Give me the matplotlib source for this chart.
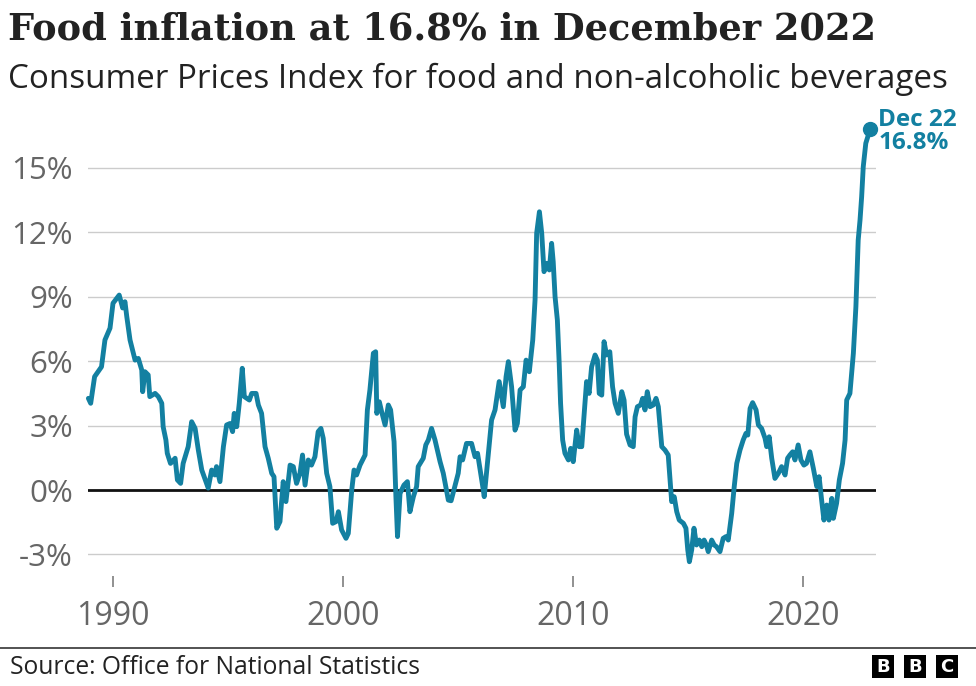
#Grafico: inflacion de alimentos en el Reino Unido (IPC alimentos y bebidas no alcoholicas)
#-------------------------------------------------------------------------------------------
import matplotlib
matplotlib.use('Agg')
import matplotlib.pyplot as plt
from matplotlib.patches import Rectangle

# fechas (anio decimal) y valores, en %
fechas = [1988.93, 1989.03, 1989.2, 1989.5, 1989.65, 1989.87, 1990.0, 1990.27, 1990.42, 1990.52,
          1990.6, 1990.74, 1990.96, 1991.1, 1991.25, 1991.29, 1991.39, 1991.53, 1991.6, 1991.83,
          1991.97, 1992.12, 1992.18, 1992.3, 1992.36, 1992.5, 1992.7, 1992.8, 1992.94, 1993.05,
          1993.27, 1993.42, 1993.57, 1993.71, 1993.86, 1994.07, 1994.14, 1994.29, 1994.43, 1994.5,
          1994.65, 1994.8, 1994.94, 1995.09, 1995.2, 1995.27, 1995.38, 1995.49, 1995.62, 1995.71,
          1995.93, 1996.03, 1996.22, 1996.32, 1996.46, 1996.61, 1996.75, 1996.9, 1997.0, 1997.12,
          1997.26, 1997.4, 1997.52, 1997.7, 1997.84, 1997.98, 1998.13, 1998.24, 1998.35, 1998.49,
          1998.63, 1998.78, 1998.92, 1999.04, 1999.14, 1999.29, 1999.43, 1999.55, 1999.7, 1999.8,
          1999.94, 2000.13, 2000.23, 2000.38, 2000.48, 2000.59, 2000.74, 2000.96, 2001.06, 2001.17,
          2001.32, 2001.42, 2001.47, 2001.58, 2001.68, 2001.83, 2001.97, 2002.07, 2002.22, 2002.3,
          2002.37, 2002.48, 2002.65, 2002.8, 2002.91, 2003.06, 2003.2, 2003.27, 2003.49, 2003.6,
          2003.71, 2003.85, 2004.0, 2004.22, 2004.36, 2004.58, 2004.7, 2004.87, 2005.01, 2005.09,
          2005.2, 2005.37, 2005.59, 2005.74, 2005.85, 2006.1, 2006.14, 2006.32, 2006.46, 2006.61,
          2006.79, 2006.97, 2007.09, 2007.19, 2007.33, 2007.48, 2007.58, 2007.7, 2007.84, 2007.96,
          2008.1, 2008.25, 2008.35, 2008.42, 2008.54, 2008.64, 2008.74, 2008.86, 2008.97, 2009.07,
          2009.14, 2009.22, 2009.32, 2009.4, 2009.46, 2009.55, 2009.65, 2009.8, 2009.9, 2010.01,
          2010.16, 2010.27, 2010.38, 2010.52, 2010.59, 2010.7, 2010.81, 2010.96, 2011.06, 2011.14,
          2011.25, 2011.35, 2011.46, 2011.6, 2011.72, 2011.83, 2011.97, 2012.12, 2012.22, 2012.33,
          2012.48, 2012.62, 2012.7, 2012.8, 2012.94, 2013.03, 2013.13, 2013.23, 2013.35, 2013.49,
          2013.61, 2013.71, 2013.86, 2014.0, 2014.14, 2014.22, 2014.29, 2014.4, 2014.51, 2014.62,
          2014.8, 2014.91, 2014.99, 2015.06, 2015.16, 2015.26, 2015.37, 2015.49, 2015.6, 2015.7,
          2015.8, 2015.88, 2016.03, 2016.14, 2016.24, 2016.39, 2016.53, 2016.65, 2016.75, 2016.9,
          2017.01, 2017.12, 2017.26, 2017.4, 2017.52, 2017.6, 2017.7, 2017.81, 2017.96, 2018.06,
          2018.2, 2018.35, 2018.42, 2018.53, 2018.64, 2018.78, 2018.93, 2019.07, 2019.22, 2019.33,
          2019.43, 2019.55, 2019.65, 2019.79, 2019.91, 2020.04, 2020.15, 2020.3, 2020.45, 2020.6,
          2020.7, 2020.81, 2020.91, 2021.03, 2021.13, 2021.25, 2021.32, 2021.46, 2021.58, 2021.72,
          2021.83, 2021.9, 2022.04, 2022.19, 2022.3, 2022.4, 2022.48, 2022.55, 2022.62, 2022.73,
          2022.917]
inflacion = [4.27, 4.04, 5.28, 5.74, 6.99, 7.54, 8.7, 9.08, 8.48, 8.77,
             8.07, 6.99, 6.05, 6.13, 5.59, 4.58, 5.51, 5.36, 4.35, 4.5,
             4.35, 4.04, 2.95, 2.33, 1.71, 1.24, 1.48, 0.47, 0.31, 1.24,
             2.02, 3.18, 2.87, 1.86, 0.93, 0.31, 0.09, 0.93, 0.7, 1.09,
             0.39, 2.02, 3.03, 3.1, 2.72, 3.57, 2.95, 4.04, 5.67, 4.35,
             4.19, 4.5, 4.5, 3.96, 3.57, 2.02, 1.48, 0.78, 0.62, -1.78,
             -1.47, 0.39, -0.54, 1.16, 1.09, 0.31, 0.78, 1.63, 0.23, 1.4,
             1.16, 1.55, 2.72, 2.87, 2.41, 0.78, 0.16, -1.55, -1.47, -1.01,
             -1.86, -2.25, -2.02, 0.0, 0.93, 0.7, 1.16, 1.63, 3.73, 4.66,
             6.37, 6.44, 3.57, 4.11, 3.65, 3.03, 3.96, 3.73, 2.25, -0.31,
             -2.17, -0.16, 0.23, 0.39, -1.01, -0.31, 0.16, 1.09, 1.48, 2.1,
             2.33, 2.87, 2.33, 1.32, 0.78, -0.47, -0.5, 0.2, 0.78, 1.55,
             1.4, 2.17, 2.17, 1.55, 1.71, 0.0, -0.31, 1.71, 3.26, 3.73,
             5.05, 3.88, 5.28, 5.98, 4.81, 2.79, 3.1, 4.66, 4.81, 6.05,
             5.51, 6.99, 8.85, 11.96, 12.96, 11.96, 10.17, 10.56, 10.25, 11.49,
             10.63, 9.0, 7.92, 5.9, 4.04, 2.33, 1.71, 1.4, 1.94, 1.32,
             2.79, 2.02, 2.02, 4.04, 5.05, 4.5, 5.74, 6.29, 6.05, 4.5,
             4.42, 6.91, 6.29, 6.44, 4.81, 4.04, 3.57, 4.58, 4.19, 2.6,
             2.1, 2.02, 3.41, 3.88, 3.96, 4.27, 3.73, 4.58, 3.88, 3.96,
             4.27, 3.88, 2.02, 1.86, 1.63, 0.47, -0.54, -0.31, -1.01, -1.4,
             -1.55, -1.78, -2.79, -3.34, -2.79, -1.78, -2.56, -2.33, -2.64, -2.33,
             -2.56, -2.87, -2.33, -2.56, -2.64, -2.87, -2.25, -2.17, -2.33, -1.09,
             0.16, 1.24, 1.86, 2.33, 2.64, 2.56, 3.8, 4.07, 3.73, 3.03,
             2.87, 2.41, 2.02, 2.48, 1.48, 0.54, 0.78, 1.09, 0.7, 1.48,
             1.63, 1.78, 1.4, 2.1, 1.4, 1.16, 1.24, 1.78, 1.01, 0.16,
             0.62, -0.47, -1.4, -0.7, -1.4, -0.39, -1.32, -0.62, 0.47, 1.24,
             2.33, 4.19, 4.5, 6.37, 8.54, 11.64, 12.58, 13.66, 15.06, 16.15,
             16.8]

ticksY = [-3, 0, 3, 6, 9, 12, 15]
ticksX = [1990, 2000, 2010, 2020]
etiquetaFinal = 'Dec 22\n16.8%'

azul = '#1380A1'
gris = '#666666'

W, H = 976, 686


def ajustarAncho(fig, texto, anchoPx):
    # escala el tamano de letra para que el texto ocupe el ancho deseado
    fig.canvas.draw()
    ancho = texto.get_window_extent(fig.canvas.get_renderer()).width
    texto.set_fontsize(texto.get_fontsize() * anchoPx / ancho)


def graficar():
    fig = plt.figure(figsize=(W / 100, H / 100), dpi=100)
    ax = fig.add_axes([88 / W, 1 - 575.9 / H, (876 - 88) / W, (575.9 - 114.3) / H])

    ax.plot(fechas, inflacion, color=azul, linewidth=3.5, solid_joinstyle='round',
            solid_capstyle='round', clip_on=False, zorder=3)
    ax.plot(fechas[-1], inflacion[-1], 'o', color=azul, markersize=10, clip_on=False, zorder=4)
    ax.annotate(etiquetaFinal, (fechas[-1], inflacion[-1]), xytext=(6, -1.5), textcoords='offset points',
                ha='left', va='center', color=azul, fontsize=17.5, fontweight='bold',
                family='Open Sans', linespacing=0.92, annotation_clip=False)

    ax.set_xlim(1988.913, 2023.174)
    ax.set_ylim(-4, 17.5)

    for v in ticksY:
        if v == 0:
            ax.axhline(0, color='#111111', linewidth=2, zorder=2)
        else:
            ax.axhline(v, color='#cccccc', linewidth=1, zorder=1)

    ax.set_yticks(ticksY)
    ax.set_yticklabels([f'{v}%' for v in ticksY])
    ax.set_xticks(ticksX)
    ax.set_xticklabels([str(v) for v in ticksX])
    ax.tick_params(axis='y', length=0, pad=11, labelsize=22.5, labelcolor=gris)
    ax.tick_params(axis='x', length=8, width=1.3, color='#888888', pad=9, labelsize=23, labelcolor=gris)
    for lbl in ax.get_xticklabels() + ax.get_yticklabels():
        lbl.set_family('Open Sans')
    for s in ax.spines.values():
        s.set_visible(False)

    # titulo y subtitulo
    titulo = fig.text(8 / W, 1 - 30 / H, 'Food inflation at 16.8% in December 2022', ha='left', va='center',
                      fontsize=30, fontweight='bold', family='DejaVu Serif', color='#222222')
    subtitulo = fig.text(8 / W, 1 - 79 / H, 'Consumer Prices Index for food and non-alcoholic beverages',
                         ha='left', va='center', fontsize=22, family='Open Sans', color='#222222')
    ajustarAncho(fig, titulo, 868)
    ajustarAncho(fig, subtitulo, 937)

    # pie: linea, fuente y logo
    fig.add_artist(plt.Line2D([0, 1], [1 - 648 / H, 1 - 648 / H], color='#444444', linewidth=1.3))
    fuente = fig.text(10 / W, 1 - 667 / H, 'Source: Office for National Statistics', ha='left', va='center',
                      fontsize=17, family='Open Sans', color='#222222')
    ajustarAncho(fig, fuente, 410)
    for i, letra in enumerate('BBC'):
        x0 = 872 + i * 32
        fig.add_artist(Rectangle((x0 / W, 1 - 678 / H), 22 / W, 23 / H, transform=fig.transFigure,
                                 facecolor='black', edgecolor='none'))
        fig.text((x0 + 11) / W, 1 - 666.5 / H, letra, ha='center', va='center', fontsize=13,
                 fontweight='bold', color='white', family='DejaVu Sans')

    fig.savefig('out.png', dpi=100, facecolor='white')


graficar()
